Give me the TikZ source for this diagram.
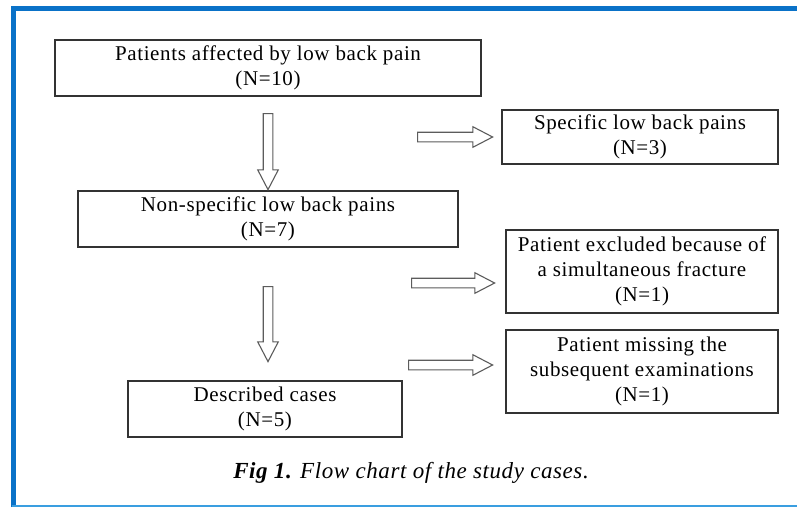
\documentclass[tikz,border=0pt]{standalone}
\usepackage{fontspec}
\setmainfont{Liberation Serif}
\usetikzlibrary{shapes.arrows}
\definecolor{frameblue}{HTML}{0A72C8}
\definecolor{framelight}{HTML}{3A9EE0}
\definecolor{boxline}{HTML}{333333}
\newfontfamily\boxfont[LetterSpace=3]{Liberation Serif}
\newfontfamily\capfont[LetterSpace=2.5]{Liberation Serif}
\begin{document}
\begin{tikzpicture}[x=1pt,y=-1pt,
		flowbox/.style={draw=boxline, line width=1.4pt, align=center, inner sep=0pt, font=\boxfont\fontsize{21}{25}\selectfont},
		hollow/.style={single arrow, draw=boxline!80, line width=1.1pt, inner sep=4.25pt, single arrow head extend=5.5pt, single arrow tip angle=55, anchor=center}]
		\useasboundingbox (0,0) rectangle (797,507);
		\fill[white] (0,0) rectangle (797,507);
		\draw[frameblue, line width=4.5pt] (13.5,507) -- (13.5,8.5) -- (797,8.5);
		\draw[framelight, line width=2pt] (11.5,506) -- (797,506);
		
		\node[flowbox, minimum width=426, minimum height=56] (patients) at (268,68) {Patients affected by low back pain\\(N=10)};
		\node[flowbox, minimum width=276, minimum height=54] (specific) at (640,137) {Specific low back pains\\(N=3)};
		\node[flowbox, minimum width=380, minimum height=56] (nonspecific) at (268,219) {Non-specific low back pains\\(N=7)};
		\node[flowbox, minimum width=272, minimum height=83] (fracture) at (642,271.5) {Patient excluded because of\\a simultaneous fracture\\(N=1)};
		\node[flowbox, minimum width=272, minimum height=83] (missing) at (642,371.5) {Patient missing the\\subsequent examinations\\(N=1)};
		\node[flowbox, minimum width=274, minimum height=56] (described) at (265,409) {Described cases\\(N=5)};
		
		\node[hollow, rotate=-90, minimum height=76] (downa) at (268,147) {};
		\node[hollow, rotate=-90, minimum height=75] (downb) at (268,319.5) {};
		\node[hollow, minimum height=75] (righta) at (450.5,137) {};
		\node[hollow, minimum height=83] (rightb) at (448.5,283) {};
		\node[hollow, minimum height=84] (rightc) at (446,365) {};
		
		\node[font=\capfont\fontsize{23}{27}\selectfont\itshape] (caption) at (411,473) {\textbf{Fig 1.} Flow chart of the study cases.};
\end{tikzpicture}
\end{document}
